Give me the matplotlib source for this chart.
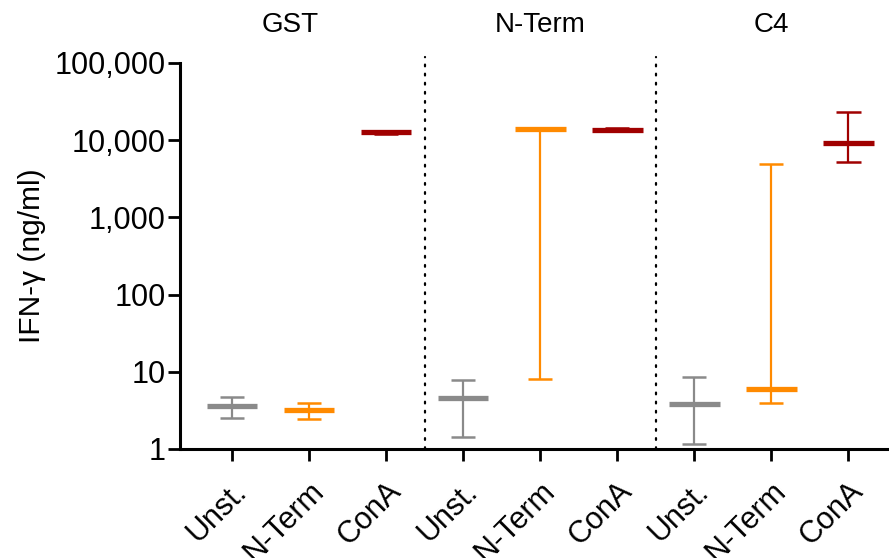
import matplotlib
matplotlib.use("Agg")
import matplotlib.pyplot as plt
import numpy as np
from matplotlib.ticker import FixedLocator, FuncFormatter, NullLocator

plt.rcParams['font.family'] = ['Liberation Sans', 'DejaVu Sans']

groups = ["GST", "N-Term", "C4"]
conditions = ["Unst.", "N-Term", "ConA"]
colors = ["#8a8a8a", "#ff8a00", "#a00000"]

# median, min, max per group (rows) and condition (columns)
medians = [[3.64, 3.2, 12700],
           [4.62, 14000, 13500],
           [3.83, 5.98, 9300]]
mins = [[2.54, 2.45, 12100],
        [1.44, 8.0, 13000],
        [1.16, 3.91, 5270]]
maxs = [[4.76, 3.98, 13300],
        [7.83, 14000, 14300],
        [8.64, 4880, 23200]]

fig = plt.figure(figsize=(8.89, 5.58), dpi=100)
ax = fig.add_axes([180/889, (558-449)/558, (889-180)/889, (449-63)/558])

pos = 0
xlabels = []
for gi, g in enumerate(groups):
    for ci, c in enumerate(conditions):
        m = medians[gi][ci]; lo = mins[gi][ci]; hi = maxs[gi][ci]
        col = colors[ci]
        ax.plot([pos, pos], [lo, hi], color=col, lw=1.6, solid_capstyle='butt', zorder=3)
        for v in (lo, hi):
            ax.plot([pos-0.16, pos+0.16], [v, v], color=col, lw=1.8, solid_capstyle='butt', zorder=3)
        ax.plot([pos-0.33, pos+0.33], [m, m], color=col, lw=3.8, solid_capstyle='butt', zorder=4)
        xlabels.append(c)
        pos += 1

ax.set_yscale('log')
ax.set_ylim(1, 100000)
ax.set_xlim(-0.675, 8.53)

for xv in (2.5, 5.5):
    ax.plot([xv, xv], [1, 120000], color='black', lw=1.6, linestyle=(0, (0.8, 3.3)),
            dash_capstyle='round', zorder=2, clip_on=False)

yt = [1, 10, 100, 1000, 10000, 100000]
ax.yaxis.set_major_locator(FixedLocator(yt))
ax.yaxis.set_minor_locator(NullLocator())
ax.yaxis.set_major_formatter(FuncFormatter(lambda v, p: f"{int(round(v)):,}"))

ax.set_xticks(range(len(xlabels)))
ax.set_xticklabels(xlabels, rotation=45, ha='right', rotation_mode='anchor')

for s in ('top', 'right'):
    ax.spines[s].set_visible(False)
for s in ('left', 'bottom'):
    ax.spines[s].set_linewidth(2.2)
ax.tick_params(axis='both', which='major', length=8.5, width=2.0, labelsize=22, colors='black')
ax.tick_params(axis='y', pad=2)
ax.tick_params(axis='x', pad=11)

ax.set_ylabel("IFN-γ (ng/ml)", fontsize=21.5, labelpad=6)

title_x = [0.75, 4, 7]
for gx, g in zip(title_x, groups):
    ax.annotate(g, xy=(gx, 1.0), xycoords=('data', 'axes fraction'),
                xytext=(0, 38), textcoords='offset pixels', ha='center', va='center', fontsize=20)

fig.savefig("out.png", dpi=100)
